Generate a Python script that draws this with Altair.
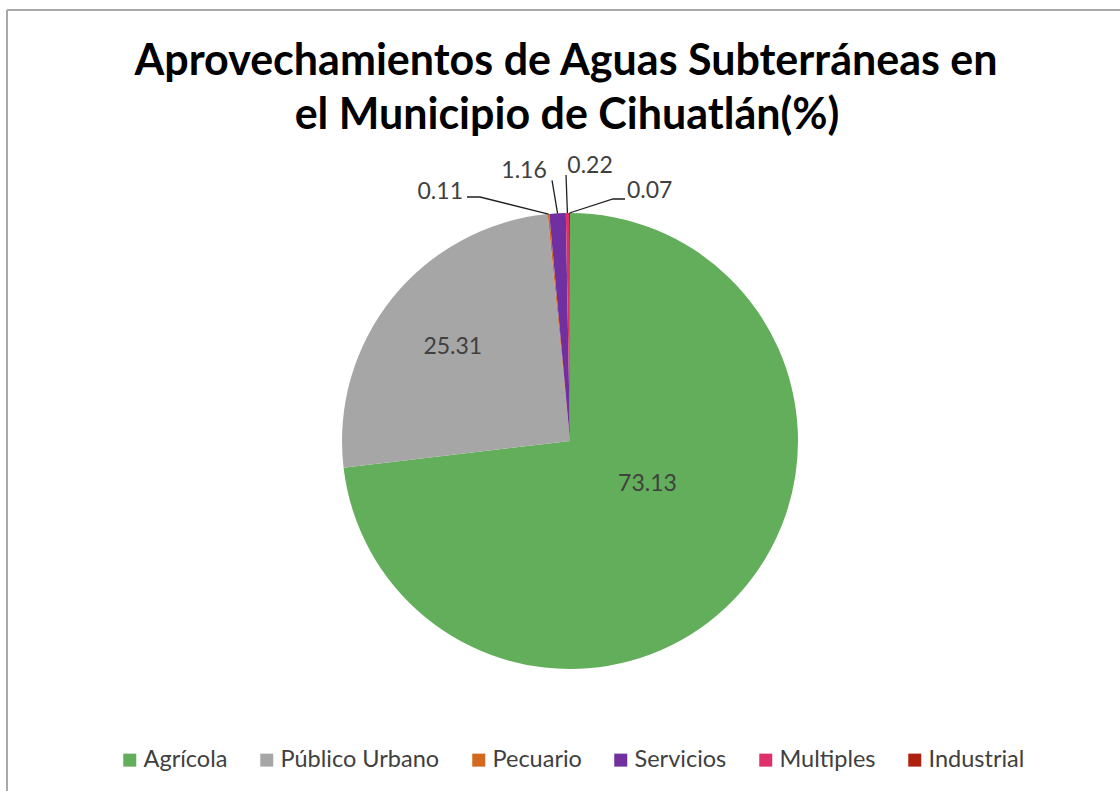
import math
import altair as alt
import pandas as pd

# ---- data ----
categories = ["Agrícola", "Público Urbano", "Pecuario", "Servicios", "Multiples", "Industrial"]
values = [73.13, 25.31, 0.11, 1.16, 0.22, 0.07]
label_texts = ["73.13", "25.31", "0.11", "1.16", "0.22", "0.07"]
title_lines = ["Aprovechamientos de Aguas Subterráneas en", "el Municipio de Cihuatlán(%)"]

# ---- style / layout ----
colors = ["#62AE5A", "#A6A6A6", "#D2691E", "#7030A0", "#E0306A", "#B0200F"]
W, H = 1120, 791
CX, CY, R = 570, 441, 228
FONT = "Lato"
TXT = "#404040"

# label placement styles: radius fraction, text offset, leader offsets, align
label_style = {
    "73.13": dict(rf=0.66, off=(-35, -57), lead=[], align="center"),
    "25.31": dict(rf=0.66, off=(0, 0), lead=[], align="center"),
    "0.11": dict(rf=1.0, off=(-85.5, -22), lead=[(-68.5, -17), (-81.5, -17)], align="right"),
    "1.16": dict(rf=1.0, off=(-33.5, -42), lead=[(-5.5, -33)], align="center"),
    "0.22": dict(rf=1.0, off=(22.6, -47), lead=[(-1.4, -38)], align="center"),
    "0.07": dict(rf=1.0, off=(57.5, -22), lead=[(43.5, -14), (55.5, -14)], align="left"),
}

# ---- derived tables ----
total = sum(values)
pie_df = pd.DataFrame({"cat": categories, "value": values, "idx": list(range(len(values)))})

lab_rows, line_rows = [], []
cum = 0.0
for cat, v, t in zip(categories, values, label_texts):
    a = (cum + v / 2) / total * 2 * math.pi
    cum += v
    st = label_style[t]
    ax = CX + st["rf"] * R * math.sin(a)
    ay = CY - st["rf"] * R * math.cos(a)
    lab_rows.append({"t": t, "px": ax + st["off"][0], "py": ay + st["off"][1], "align": st["align"]})
    if st["lead"]:
        line_rows.append({"t": t, "seq": 0, "px": ax, "py": ay})
        for i, (dx, dy) in enumerate(st["lead"]):
            line_rows.append({"t": t, "seq": i + 1, "px": ax + dx, "py": ay + dy})
lab_df = pd.DataFrame(lab_rows)
line_df = pd.DataFrame(line_rows)

one = pd.DataFrame({"a": [0]})

border_left = alt.Chart(one).mark_rule(color="#A9A9A9", strokeWidth=2).encode(
    x=alt.value(7), y=alt.value(10), y2=alt.value(H))
border_top = alt.Chart(one).mark_rule(color="#A9A9A9", strokeWidth=2).encode(
    x=alt.value(7), x2=alt.value(W), y=alt.value(10))

pie = alt.Chart(pie_df).mark_arc(outerRadius=R, stroke=None).encode(
    theta=alt.Theta("value:Q", stack=True),
    order=alt.Order("idx:Q"),
    color=alt.Color(
        "cat:N",
        sort=categories,
        scale=alt.Scale(domain=categories, range=colors),
        legend=alt.Legend(
            title=None, orient="none", legendX=118, legendY=748, direction="horizontal",
            symbolType="square", symbolSize=169, symbolStrokeWidth=0,
            labelFont=FONT, labelFontSize=23.5, labelColor=TXT, labelOffset=2,
            columnPadding=27, padding=0,
        ),
    ),
    x=alt.value(CX), y=alt.value(CY),
)

leaders = alt.Chart(line_df).mark_line(color="#202020", strokeWidth=1.3).encode(
    x=alt.X("px:Q", scale=None, axis=None),
    y=alt.Y("py:Q", scale=None, axis=None),
    detail="t:N",
    order="seq:Q",
)

texts = []
for al in ["left", "center", "right"]:
    texts.append(
        alt.Chart(lab_df).transform_filter(alt.datum.align == al).mark_text(
            align=al, baseline="middle", font=FONT, fontSize=23, color=TXT
        ).encode(
            x=alt.X("px:Q", scale=None, axis=None),
            y=alt.Y("py:Q", scale=None, axis=None),
            text="t:N",
        )
    )

title1 = alt.Chart(one).mark_text(
    text=title_lines[0], font=FONT, fontSize=43, fontWeight="bold", color="#000000",
    align="center", baseline="alphabetic").encode(x=alt.value(566), y=alt.value(75))
title2 = alt.Chart(one).mark_text(
    text=title_lines[1], font=FONT, fontSize=43, fontWeight="bold", color="#000000",
    align="center", baseline="alphabetic").encode(x=alt.value(567), y=alt.value(129))

chart = alt.layer(border_left, border_top, pie, leaders, *texts, title1, title2).properties(
    width=W, height=H, autosize=alt.AutoSizeParams(type="none"), padding=0,
    background="white",
).configure_view(stroke=None)

chart.save("out.html", embed_options={"renderer": "svg", "actions": False})
